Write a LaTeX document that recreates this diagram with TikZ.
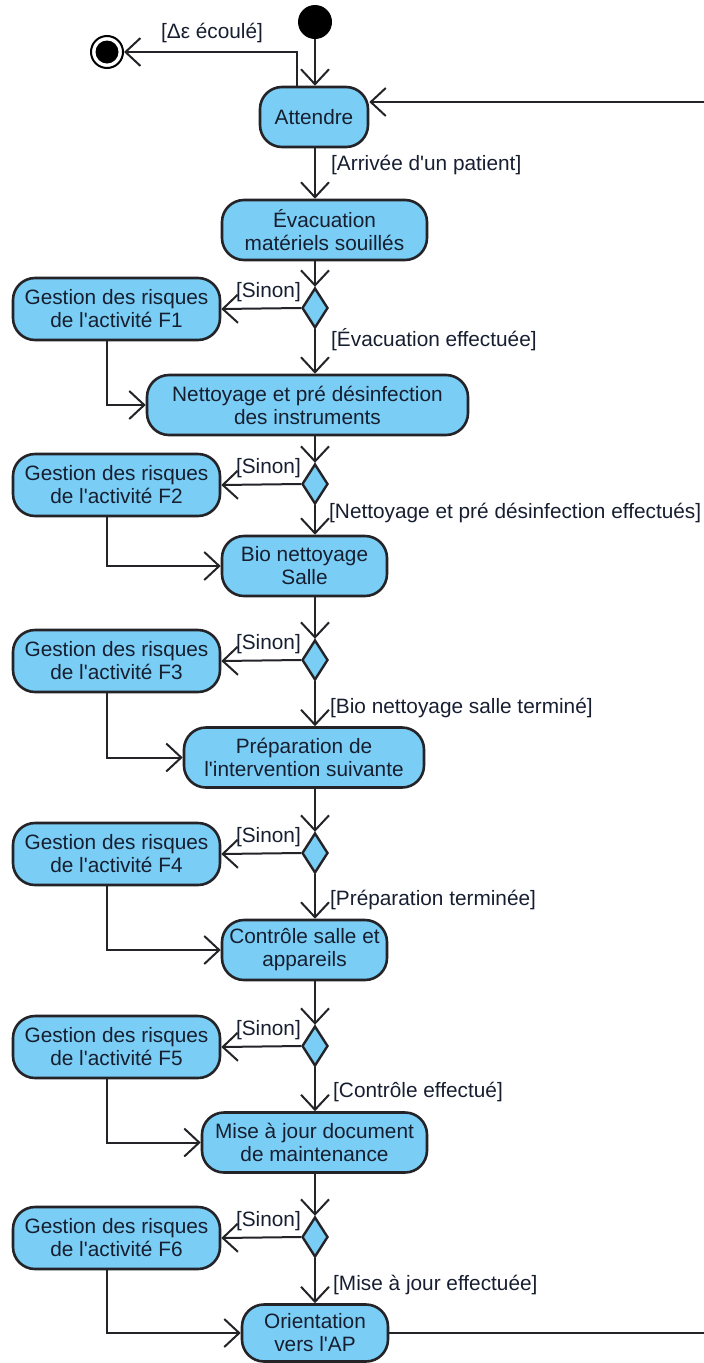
\documentclass[tikz,border=0pt]{standalone}
\usepackage{fontspec}
\setmainfont{Liberation Sans}[Ligatures=TeXOff]
\usetikzlibrary{arrows.meta,shapes.geometric}
\definecolor{boxfill}{RGB}{122,206,245}
\definecolor{linec}{RGB}{35,35,40}
\definecolor{txt}{RGB}{22,30,48}
\begin{document}
\begin{tikzpicture}[x=1pt,y=-1pt,
  every node/.style={text=txt},
  act/.style={draw=linec, line width=2.6pt, fill=boxfill, rounded corners=22pt, minimum height=60pt, align=center, inner sep=0pt, font=\fontsize{20.8}{23}\selectfont},
  dec/.style={diamond, draw=linec, line width=2.4pt, fill=boxfill, minimum width=26pt, minimum height=40pt, inner sep=0pt},
  flow/.style={draw=linec, line width=2pt, -{Straight Barb[length=15pt,width=28pt]}},
  lab/.style={font=\fontsize{20.8}{23}\selectfont, inner sep=0pt}
]
\useasboundingbox (0,0) rectangle (704,1363);
\coordinate (X) at (315,0);
\coordinate (L) at (107,0);
\coordinate (top) at (712,102);
\coordinate (eps) at (297,52);
% initial / final
\node[circle, fill=black, minimum size=34pt, inner sep=0pt] (start) at (315,22) {};
\node[circle, draw=black, line width=2pt, fill=white, minimum size=32pt, inner sep=0pt] (final) at (107,52) {};
\node[circle, fill=black, minimum size=23pt, inner sep=0pt] (finalin) at (final.center) {};
% activities
\node[act, minimum width=108pt] (att) at (314,117) {Attendre};
\node[act, minimum width=205pt] (evac) at (324.5,230) {Évacuation\\matériels souillés};
\node[act, minimum width=321pt] (nett) at (307.5,405) {Nettoyage et pré désinfection\\des instruments};
\node[act, minimum width=165pt] (bio) at (304.5,566) {Bio nettoyage\\Salle};
\node[act, minimum width=240pt] (prep) at (304,757.5) {Préparation de\\l'intervention suivante};
\node[act, minimum width=165pt] (ctrl) at (304.5,950) {Contrôle salle et\\appareils};
\node[act, minimum width=225pt] (maj) at (314.5,1142.5) {Mise à jour document\\de maintenance};
\node[act, minimum width=146pt, minimum height=57pt] (orient) at (315,1333) {Orientation\\vers l'AP};
% risk boxes
\node[act, minimum width=207pt, minimum height=62pt] (f1) at (116.5,309) {Gestion des risques\\de l'activité F1};
\node[act, minimum width=207pt, minimum height=62pt] (f2) at (116.5,485) {Gestion des risques\\de l'activité F2};
\node[act, minimum width=207pt, minimum height=62pt] (f3) at (116.5,661) {Gestion des risques\\de l'activité F3};
\node[act, minimum width=207pt, minimum height=62pt] (f4) at (116.5,854) {Gestion des risques\\de l'activité F4};
\node[act, minimum width=207pt, minimum height=62pt] (f5) at (116.5,1047) {Gestion des risques\\de l'activité F5};
\node[act, minimum width=207pt, minimum height=62pt] (f6) at (116.5,1238) {Gestion des risques\\de l'activité F6};
% decisions
\node[dec] (d1) at (315,308) {};
\node[dec] (d2) at (315,484) {};
\node[dec] (d3) at (315,660) {};
\node[dec] (d4) at (315,853) {};
\node[dec] (d5) at (315,1046) {};
\node[dec] (d6) at (315,1237) {};
% labels
\node[lab] (leps) at (212,33) {[Δε écoulé]};
\node[lab, anchor=west] (l0) at (331,165) {[Arrivée d'un patient]};
\node[lab, anchor=west] (l1) at (331,340) {[Évacuation effectuée]};
\node[lab, anchor=west] (l2) at (329,513) {[Nettoyage et pré désinfection effectués]};
\node[lab, anchor=west] (l3) at (330,708) {[Bio nettoyage salle terminé]};
\node[lab, anchor=west] (l4) at (330,900) {[Préparation terminée]};
\node[lab, anchor=west] (l5) at (333,1092) {[Contrôle effectué]};
\node[lab, anchor=west] (l6) at (333,1285) {[Mise à jour effectuée]};
\node[lab, anchor=east] (s1) at (301,292) {[Sinon]};
\node[lab, anchor=east] (s2) at (301,468) {[Sinon]};
\node[lab, anchor=east] (s3) at (301,644) {[Sinon]};
\node[lab, anchor=east] (s4) at (301,837) {[Sinon]};
\node[lab, anchor=east] (s5) at (301,1030) {[Sinon]};
\node[lab, anchor=east] (s6) at (301,1221) {[Sinon]};
% connectors
\draw[flow] (start.south) -- (att.north -| X);
\draw[flow] (att.north -| eps) -- (eps) -- (final);
\draw[flow] (att.south -| X) -- (evac.north -| X);
\draw[flow] (evac.south -| X) -- (d1.north);
\draw[flow] (d1.south) -- (nett.north -| X);
\draw[flow] (d1.west) -- (f1.east);
\draw[flow] (f1.south -| L) -- (nett.west -| L) -- (nett.west);
\draw[flow] (nett.south -| X) -- (d2.north);
\draw[flow] (d2.south) -- (bio.north -| X);
\draw[flow] (d2.west) -- (f2.east);
\draw[flow] (f2.south -| L) -- (bio.west -| L) -- (bio.west);
\draw[flow] (bio.south -| X) -- (d3.north);
\draw[flow] (d3.south) -- (prep.north -| X);
\draw[flow] (d3.west) -- (f3.east);
\draw[flow] (f3.south -| L) -- (prep.west -| L) -- (prep.west);
\draw[flow] (prep.south -| X) -- (d4.north);
\draw[flow] (d4.south) -- (ctrl.north -| X);
\draw[flow] (d4.west) -- (f4.east);
\draw[flow] (f4.south -| L) -- (ctrl.west -| L) -- (ctrl.west);
\draw[flow] (ctrl.south -| X) -- (d5.north);
\draw[flow] (d5.south) -- (maj.north -| X);
\draw[flow] (d5.west) -- (f5.east);
\draw[flow] (f5.south -| L) -- (maj.west -| L) -- (maj.west);
\draw[flow] (maj.south -| X) -- (d6.north);
\draw[flow] (d6.south) -- (orient.north -| X);
\draw[flow] (d6.west) -- (f6.east);
\draw[flow] (f6.south -| L) -- (orient.west -| L) -- (orient.west);
\draw[flow] (orient.east) -- (orient.east -| top) -- (top) -- (att.east |- top);
\end{tikzpicture}
\end{document}
